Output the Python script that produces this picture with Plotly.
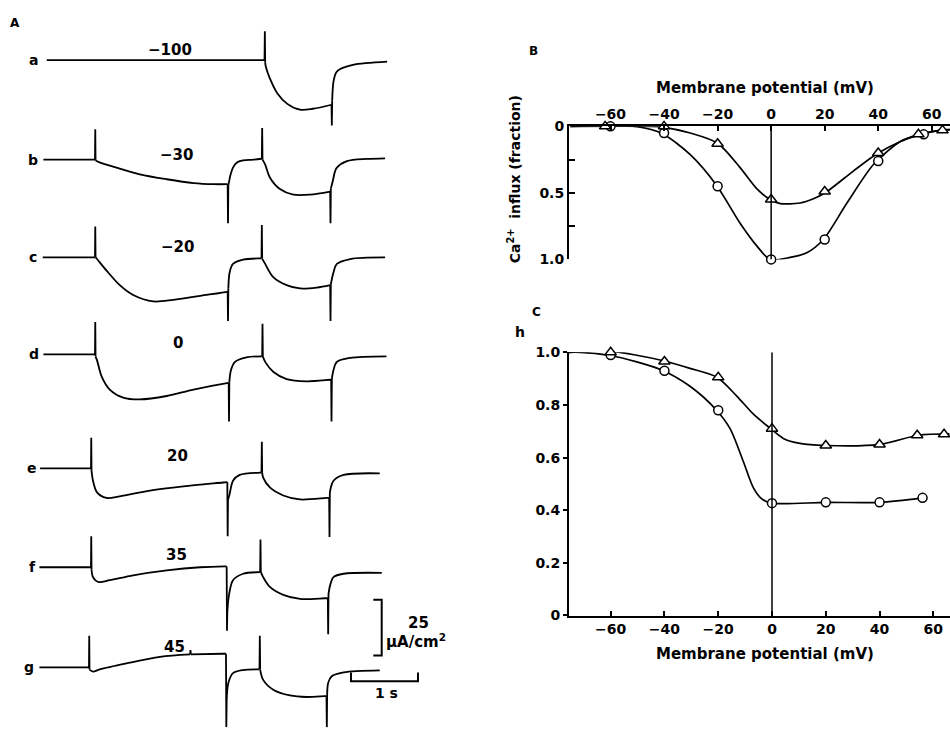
import plotly.graph_objects as go

# ---------------- Panel A: membrane current traces ----------------
# time (s, from onset of first pulse), current (uA/cm^2, inward negative)
trace_letters = ["a", "b", "c", "d", "e", "f", "g"]
step_potentials = ["\u2212100", "\u221230", "\u221220", "0", "20", "35", "45"]

trace_a = [(-0.72, 0), (2.53, 0), (2.535, 12.9), (2.54, -1.0), (2.55, -3.0), (2.61, -8.2),
           (2.72, -14.8), (2.87, -19.6), (3.06, -22.2), (3.25, -21.8), (3.53, -20.0),
           (3.535, -29.3), (3.54, -18.0), (3.56, -9.5), (3.60, -5.5), (3.66, -4.0),
           (3.85, -2.1), (4.36, -0.7)]
trace_b = [(-0.77, 0), (0.0, 0), (0.004, 13.6), (0.008, -0.4), (0.05, -1.0), (0.32, -3.6),
           (0.67, -6.6), (1.07, -8.8), (1.47, -10.5), (1.77, -11.0), (1.98, -11.0),
           (1.985, -28.5), (1.99, -11.5), (2.01, -8.5), (2.03, -6.0), (2.06, -3.6),
           (2.10, -1.8), (2.16, -0.7), (2.36, 0.0), (2.49, 0.4), (2.495, 14.2), (2.50, 0.0),
           (2.54, -2.2), (2.61, -8.0), (2.76, -13.2), (2.96, -15.7), (3.21, -15.7),
           (3.51, -14.3), (3.515, -28.5), (3.52, -13.0), (3.55, -9.5), (3.58, -5.5),
           (3.61, -3.6), (3.76, -0.7), (4.06, 0.3), (4.33, 0.6)]
trace_c = [(-0.78, 0), (0.0, 0), (0.004, 13.9), (0.008, 0), (0.03, -0.7), (0.17, -5.8),
           (0.37, -12.4), (0.57, -16.8), (0.87, -19.7), (1.17, -19.0), (1.57, -17.2),
           (1.97, -15.4), (1.98, -15.3), (1.985, -28.5), (1.99, -14.0), (2.01, -6.6),
           (2.06, -2.9), (2.21, -1.0), (2.46, -0.4), (2.485, -0.4), (2.49, 14.6),
           (2.495, -0.5), (2.54, -2.9), (2.66, -8.8), (2.86, -12.4), (3.06, -13.9),
           (3.31, -13.5), (3.51, -12.4), (3.515, -28.5), (3.52, -12.0), (3.56, -6.6),
           (3.61, -2.9), (3.81, -0.7), (4.33, 0)]
trace_d = [(-0.77, 0), (0.0, 0), (0.004, 14.5), (0.008, -1.0), (0.03, -2.6), (0.10, -10.0),
           (0.22, -15.8), (0.42, -19.4), (0.67, -20.2), (1.07, -18.7), (1.47, -15.8),
           (1.97, -12.9), (1.995, -12.8), (2.0, -30.1), (2.005, -12.5), (2.03, -7.0),
           (2.09, -3.4), (2.26, -1.4), (2.49, -0.9), (2.495, -0.9), (2.50, 13.7),
           (2.505, -0.9), (2.54, -3.4), (2.66, -7.8), (2.86, -11.1), (3.16, -12.1),
           (3.51, -11.4), (3.525, -11.4), (3.53, -30.1), (3.535, -11.0), (3.56, -7.0),
           (3.61, -3.4), (3.81, -1.6), (4.35, -0.9)]
trace_e = [(-0.82, 0), (-0.06, 0), (-0.056, 13.8), (-0.052, -1.0), (-0.03, -5.5),
           (0.03, -10.7), (0.17, -13.2), (0.37, -12.5), (0.82, -9.9), (1.32, -8.0),
           (1.91, -6.3), (1.975, -6.1), (1.98, -30.4), (1.985, -14.0), (2.01, -11.4),
           (2.06, -5.5), (2.16, -2.9), (2.46, -1.9), (2.485, -1.9), (2.49, 12.0),
           (2.495, -1.9), (2.51, -4.1), (2.61, -8.5), (2.81, -12.1), (3.06, -13.9),
           (3.46, -13.2), (3.495, -13.2), (3.50, -30.7), (3.505, -11.0), (3.52, -8.5),
           (3.56, -5.5), (3.71, -2.9), (4.25, -2.2)]
trace_f = [(-0.83, 0), (-0.06, 0), (-0.056, 13.9), (-0.052, -1.0), (-0.03, -4.4),
           (0.05, -6.6), (0.22, -5.8), (0.57, -3.6), (1.07, -1.4), (1.57, 0.0),
           (1.94, 0.4), (1.965, 0.4), (1.97, -28.5), (1.975, -20.0), (2.0, -12.4),
           (2.06, -5.8), (2.21, -2.9), (2.44, -2.2), (2.465, -2.2), (2.47, 12.5),
           (2.475, -2.2), (2.51, -4.4), (2.61, -8.8), (2.81, -12.4), (3.06, -14.2),
           (3.43, -13.9), (3.475, -13.9), (3.48, -30.0), (3.485, -12.0), (3.51, -8.0),
           (3.56, -4.4), (3.71, -2.9), (4.28, -2.5)]
trace_g = [(-0.83, 0), (-0.09, 0), (-0.086, 14.2), (-0.082, -1.0), (-0.03, -1.9),
           (0.07, -0.9), (0.47, 1.8), (0.97, 4.7), (1.42, 5.8), (1.425, 7.8), (1.43, 5.8),
           (1.91, 6.1), (1.955, 6.1), (1.96, -26.8), (1.965, -15.0), (1.99, -7.0),
           (2.06, -2.6), (2.21, -1.2), (2.44, -0.9), (2.455, -0.9), (2.46, 14.2),
           (2.465, -1.0), (2.51, -5.6), (2.66, -10.0), (2.91, -12.6), (3.16, -13.3),
           (3.43, -12.9), (3.455, -12.9), (3.46, -26.8), (3.465, -12.0), (3.48, -7.0),
           (3.53, -4.1), (3.71, -2.3), (4.25, -1.4)]
traces = [trace_a, trace_b, trace_c, trace_d, trace_e, trace_f, trace_g]

scale_current = 25   # uA/cm^2
scale_time = 1       # s

# ---------------- Panel B: Ca2+ influx (fraction) ----------------
b_circ_x = [-60, -40, -20, 0, 20, 40, 57]
b_circ_y = [0.0, 0.05, 0.45, 1.0, 0.85, 0.26, 0.06]
b_tri_x = [-62, -40, -20, 0, 20, 40, 55, 64]
b_tri_y = [0.0, 0.0, 0.13, 0.55, 0.49, 0.20, 0.06, 0.03]
b_circ_fit_x = [-75, -50, -40.8, -30.2, -20.3, -11.6, -5.3, -0.4, 7.1, 13.3, 19.5, 28.2, 38.2, 48.1, 54.4, 63, 67]
b_circ_fit_y = [0, 0.003, 0.054, 0.213, 0.446, 0.728, 0.9, 1.0, 0.985, 0.95, 0.85, 0.58, 0.287, 0.115, 0.066, 0.03, 0.025]
b_tri_fit_x = [-75, -45, -40.6, -30.2, -20, -11.6, -5.3, -0.4, 3.4, 10.8, 15.8, 20.5, 30.7, 39.4, 48.1, 54.4, 63, 67]
b_tri_fit_y = [0, 0, 0.005, 0.05, 0.127, 0.31, 0.47, 0.55, 0.58, 0.576, 0.544, 0.495, 0.336, 0.208, 0.115, 0.07, 0.03, 0.025]

# ---------------- Panel C: h ----------------
c_circ_x = [-60, -40, -20, 0, 20, 40, 56]
c_circ_y = [0.99, 0.93, 0.78, 0.427, 0.43, 0.43, 0.447]
c_tri_x = [-60, -40, -20, 0, 20, 40, 54, 64]
c_tri_y = [1.0, 0.965, 0.905, 0.71, 0.646, 0.65, 0.685, 0.689]
c_circ_fit_x = [-75.5, -71.4, -60.8, -50.3, -41, -30.5, -20.8, -15.6, -10.7, -7, -3.8, -0.1, 20.3, 40.1, 56.2]
c_circ_fit_y = [1.0, 1.0, 0.989, 0.964, 0.933, 0.871, 0.782, 0.71, 0.586, 0.487, 0.443, 0.427, 0.43, 0.43, 0.447]
c_tri_fit_x = [-75.5, -60.8, -50.3, -40.4, -30.5, -20.6, -13.1, -7, -0.5, 4.2, 10.4, 19.7, 40.1, 54.4, 66]
c_tri_fit_y = [1.0, 1.005, 0.989, 0.968, 0.939, 0.906, 0.834, 0.766, 0.71, 0.673, 0.654, 0.646, 0.65, 0.685, 0.69]

mv_ticks = [-60, -40, -20, 0, 20, 40, 60]

# ---------------- layout helpers ----------------
W, H = 950, 736
FONT = "DejaVu Sans"
PX_PER_S = 67.0
PX_PER_UA = 2.28


def px(x):
    return x / W


def py(y):
    return 1 - y / H


def split_segments(points, fast=0.007):
    """Split a trace into slow (smooth) and fast (spike) runs."""
    segs = []
    cur = [points[0]]
    cur_fast = None
    for p, q in zip(points[:-1], points[1:]):
        is_fast = (q[0] - p[0]) < fast
        if cur_fast is None or is_fast == cur_fast:
            cur.append(q)
        else:
            segs.append((cur_fast, cur))
            cur = [p, q]
        cur_fast = is_fast
    segs.append((cur_fast, cur))
    return segs


# baseline pixel rows of each trace (layout)
baseline_rows = [53.3, 155, 255, 354, 470.7, 571.7, 674]
offsets = [-r / PX_PER_UA for r in baseline_rows]

fig = go.Figure()

for tr, off in zip(traces, offsets):
    for is_fast, seg in split_segments(tr):
        fig.add_trace(go.Scatter(
            x=[p[0] for p in seg], y=[p[1] + off for p in seg], mode="lines",
            line=dict(color="black", width=1.8,
                      shape="linear" if is_fast else "spline", smoothing=0.9),
            xaxis="x", yaxis="y", hoverinfo="skip", cliponaxis=False))

# scale bars
vb_x, vb_top = (381.7 - 95) / PX_PER_S, -605 / PX_PER_UA
vb_tick = 8.4 / PX_PER_S
fig.add_trace(go.Scatter(
    x=[vb_x - vb_tick, vb_x, vb_x, vb_x - vb_tick],
    y=[vb_top, vb_top, vb_top - scale_current, vb_top - scale_current],
    mode="lines", line=dict(color="black", width=2), xaxis="x", yaxis="y"))
hb_x0, hb_y = (351 - 95) / PX_PER_S, -688.3 / PX_PER_UA
hb_tick = 9 / PX_PER_UA
fig.add_trace(go.Scatter(
    x=[hb_x0, hb_x0, hb_x0 + scale_time, hb_x0 + scale_time],
    y=[hb_y + hb_tick, hb_y, hb_y, hb_y + hb_tick],
    mode="lines", line=dict(color="black", width=2), xaxis="x", yaxis="y"))

line_style = dict(color="black", width=1.7)
circ_marker = dict(symbol="circle", size=9, color="white", line=dict(color="black", width=1.5))
tri_marker = dict(symbol="triangle-up", size=10, color="white", line=dict(color="black", width=1.5))

for fx, fy, ax in [(b_circ_fit_x, b_circ_fit_y, "2"), (b_tri_fit_x, b_tri_fit_y, "2"),
                   (c_circ_fit_x, c_circ_fit_y, "3"), (c_tri_fit_x, c_tri_fit_y, "3")]:
    fig.add_trace(go.Scatter(x=fx, y=fy, mode="lines", line=dict(shape="spline", smoothing=0.8, **line_style),
                             xaxis="x" + ax, yaxis="y" + ax, cliponaxis=False))
for mx, my, mk, ax in [(b_circ_x, b_circ_y, circ_marker, "2"), (b_tri_x, b_tri_y, tri_marker, "2"),
                       (c_circ_x, c_circ_y, circ_marker, "3"), (c_tri_x, c_tri_y, tri_marker, "3")]:
    fig.add_trace(go.Scatter(x=mx, y=my, mode="markers", marker=mk,
                             xaxis="x" + ax, yaxis="y" + ax, cliponaxis=False))

tickfont = dict(family=FONT, size=14, color="black", weight="bold")

fig.update_layout(
    width=W, height=H, margin=dict(l=0, r=0, t=0, b=0),
    paper_bgcolor="white", plot_bgcolor="white", showlegend=False,
    xaxis=dict(domain=[0, 450 / W], range=[-95 / PX_PER_S, 355 / PX_PER_S], visible=False),
    yaxis=dict(domain=[0, 1], range=[-H / PX_PER_UA, 0], visible=False),
    xaxis2=dict(domain=[569 / W, 1], anchor="y2", side="top", range=[-75.5, 66.8],
                showline=True, linecolor="black", linewidth=2, ticks="inside", ticklen=5,
                tickwidth=1.5, tickcolor="black", tickvals=mv_ticks, tickfont=tickfont,
                showgrid=False, zeroline=False),
    yaxis2=dict(domain=[1 - 257 / H, 1 - 121 / H], anchor="x2", range=[1, 0],
                showline=True, linecolor="black", linewidth=2, ticks="inside", ticklen=6,
                tickwidth=1.5, tickcolor="black", tickvals=[0, 0.5, 1.0],
                ticktext=["0", "0.5", "1.0"], tickfont=tickfont,
                minor=dict(tickvals=[0.25, 0.75], ticks="inside", ticklen=6, tickwidth=1.5,
                           tickcolor="black", showgrid=False),
                showgrid=False, zeroline=False),
    xaxis3=dict(domain=[569 / W, 1], anchor="y3", range=[-75.5, 66.2],
                showline=True, linecolor="black", linewidth=2, ticks="inside", ticklen=5,
                tickwidth=1.5, tickcolor="black", tickvals=mv_ticks, tickfont=tickfont,
                showgrid=False, zeroline=False),
    yaxis3=dict(domain=[1 - 621 / H, 1 - 352 / H], anchor="x3", range=[0, 1],
                showline=True, linecolor="black", linewidth=2, ticks="outside", ticklen=4,
                tickwidth=1.5, tickcolor="black", tickvals=[0, 0.2, 0.4, 0.6, 0.8, 1.0],
                ticktext=["0", "0.2", "0.4", "0.6", "0.8", "1.0"], tickfont=tickfont,
                showgrid=False, zeroline=False),
    shapes=[
        dict(type="line", xref="x2", yref="y2", x0=0, x1=0, y0=0, y1=1, line=dict(color="black", width=1.5)),
        dict(type="line", xref="x3", yref="y3", x0=0, x1=0, y0=0, y1=1, line=dict(color="black", width=1.5)),
    ],
)

ann = []


def add_text(text, x, y, size=14, xanchor="center", yanchor="middle", angle=0):
    ann.append(dict(text=text, x=px(x), y=py(y), xref="paper", yref="paper", showarrow=False,
                    xanchor=xanchor, yanchor=yanchor, textangle=angle,
                    font=dict(family=FONT, size=size, color="black", weight="bold")))


# panel letters
add_text("A", 15, 15, 12)
add_text("B", 533, 44, 12)
add_text("C", 536, 311, 12)
add_text("h", 520, 331, 14)

# trace letters and step potentials
letter_x = [33, 33, 33, 34, 32, 32, 29]
for lt, lx, row in zip(trace_letters, letter_x, baseline_rows):
    add_text(lt, lx, row, 14)
volt_pos = [(170, 43), (176, 150), (177, 244), (178, 342), (177, 458), (176, 559), (174, 653)]
for v, (vx, vy) in zip(step_potentials, volt_pos):
    add_text(v, vx, vy, 15)

# scale bar labels
add_text("25", 418, 629, 15)
add_text("\u00b5A/cm<sup>2</sup>", 416, 647, 15)
add_text("1 s", 386, 700, 14)

# axis titles
add_text("Membrane potential (mV)", 765, 82, 15)
add_text("Membrane potential (mV)", 765, 660, 15)
add_text("Ca<sup>2+</sup>  influx (fraction)", 514, 175, 14, angle=-90)

fig.update_layout(annotations=ann)
fig.write_html("out.html")
